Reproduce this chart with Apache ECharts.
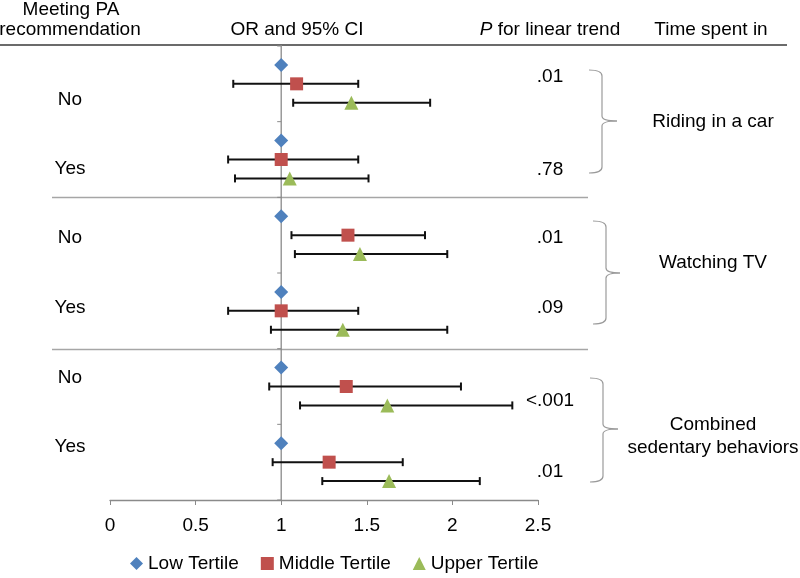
<!DOCTYPE html>
<html><head><meta charset="utf-8">
<script src="https://cdn.jsdelivr.net/npm/echarts@6/dist/echarts.min.js"></script>
<style>html,body{margin:0;padding:0;background:#fff}#c{width:800px;height:578px}</style>
</head><body><div id="c"></div>
<script>
// ---- data ----
const rowLabels = ['No', 'Yes', 'No', 'Yes', 'No', 'Yes'];
const groupNames = ['Riding in a car', 'Watching TV', 'Combined\nsedentary behaviors'];
const seriesNames = ['Low Tertile', 'Middle Tertile', 'Upper Tertile'];
const lowOR = [1, 1, 1, 1, 1, 1];
const midOR = [1.09, 1.00, 1.39, 1.00, 1.38, 1.28];
const midLo = [0.72, 0.69, 1.06, 0.69, 0.93, 0.95];
const midHi = [1.45, 1.45, 1.84, 1.45, 2.05, 1.71];
const upOR = [1.41, 1.05, 1.46, 1.36, 1.62, 1.63];
const upLo = [1.07, 0.73, 1.08, 0.94, 1.11, 1.24];
const upHi = [1.87, 1.51, 1.97, 1.97, 2.35, 2.16];
const pTrend = ['.01', '.78', '.01', '.09', '<.001', '.01'];
const headers = ['OR and 95% CI', 'P for linear trend', 'Time spent in'];
const refOR = 1;

// ---- layout ----
const FONT = "'Liberation Sans', Arial, sans-serif";
const FS = 19;
const SLOTS = 24;            // y-axis slots (4 per row)
const slot = (row, k) => SLOTS - 1 - 4 * row - k;
const rowLabelY = [100, 169, 238, 308, 378, 447];
const pY = [77, 170, 238, 308, 401, 472];
const groupY = [[122], [263], [425, 448]];
const braces = [[70, 121, 173, 589, 602, 617], [221, 273, 324, 593, 606, 620], [378, 429, 482, 590, 603, 618]];

const chart = echarts.init(document.getElementById('c'), null, { renderer: 'canvas' });

const scatter = (name, vals, k, symbol, size, color) => ({
  name, type: 'scatter', symbol, symbolSize: size, z: 5,
  itemStyle: { color, opacity: 1 },
  data: vals.map((v, i) => [v, slot(i, k)])
});
const errBars = (lo, hi, k) => ({
  type: 'custom', z: 3, silent: true,
  data: lo.map((l, i) => [l, hi[i], slot(i, k)]),
  renderItem: (params, api) => {
    const y = api.value(2);
    const a = api.coord([api.value(0), y]);
    const b = api.coord([api.value(1), y]);
    const st = { stroke: '#111', lineWidth: 2 };
    return { type: 'group', children: [
      { type: 'line', shape: { x1: a[0], y1: a[1], x2: b[0], y2: b[1] }, style: st },
      { type: 'line', shape: { x1: a[0], y1: a[1] - 4, x2: a[0], y2: a[1] + 4 }, style: st },
      { type: 'line', shape: { x1: b[0], y1: b[1] - 4, x2: b[0], y2: b[1] + 4 }, style: st }
    ] };
  }
});
const yTickVals = [0, 4, 8, 12, 16, 20, 24];
const refAxis = {
  type: 'custom', z: 1, silent: true,
  data: yTickVals.map(v => [refOR, v]),
  renderItem: (params, api) => {
    const p = api.coord([api.value(0), api.value(1)]);
    const ch = [{ type: 'line', shape: { x1: p[0] - 4, y1: p[1], x2: p[0], y2: p[1] }, style: { stroke: '#8a8a8a', lineWidth: 1 } }];
    if (params.dataIndex === 0) {
      const top = api.coord([refOR, SLOTS]);
      ch.push({ type: 'line', shape: { x1: p[0], y1: p[1], x2: top[0], y2: top[1] - 1 }, style: { stroke: '#8a8a8a', lineWidth: 1.3 } });
    }
    return { type: 'group', children: ch };
  }
};

chart.setOption({
  animation: false,
  grid: { left: 110, right: 262, top: 46, bottom: 78 },
  xAxis: {
    type: 'value', min: 0, max: 2.5, interval: 0.5,
    axisLine: { lineStyle: { color: '#8a8a8a', width: 1.3 } },
    axisTick: { show: true, length: 5, lineStyle: { color: '#8a8a8a' } },
    splitLine: { show: false },
    axisLabel: { fontSize: FS, color: '#000', fontFamily: FONT, margin: 16 }
  },
  yAxis: { type: 'value', min: 0, max: SLOTS, show: false, splitLine: { show: false } },
  legend: {
    data: seriesNames, left: 130, top: 554, itemWidth: 13, itemHeight: 13, itemGap: 22, padding: 0,
    textStyle: { fontSize: FS, color: '#000', fontFamily: FONT }
  },
  series: [
    refAxis,
    errBars(midLo, midHi, 1),
    errBars(upLo, upHi, 2),
    scatter(seriesNames[0], lowOR, 0, 'diamond', 14, '#4F81BD'),
    scatter(seriesNames[1], midOR, 1, 'rect', 13, '#C0504D'),
    scatter(seriesNames[2], upOR, 2, 'triangle', 14, '#9BBB59')
  ]
});

const txt = (x, y, text) => ({
  type: 'text', x, y,
  style: { text, fill: '#000', font: FS + 'px ' + FONT, textAlign: 'center', textVerticalAlign: 'middle' }
});

const g = [];
// header
g.push(txt(71, 10, 'Meeting PA'));
g.push(txt(70, 30, 'recommendation'));
g.push(txt(297, 30, headers[0]));
g.push({ type: 'text', x: 550, y: 30, style: { rich: { i: { font: 'italic ' + FS + 'px ' + FONT, fill: '#000' }, n: { font: FS + 'px ' + FONT, fill: '#000' } }, text: '{i|P}{n| for linear trend}', textAlign: 'center', textVerticalAlign: 'middle' } });
g.push(txt(711, 30, headers[2]));
g.push({ type: 'line', shape: { x1: 0, y1: 45, x2: 787, y2: 45 }, style: { stroke: '#3a3a3a', lineWidth: 1.6 } });
// separators between groups
[16, 8].forEach(v => {
  const y = Math.round(chart.convertToPixel({ yAxisIndex: 0 }, v)) + 0.5;
  g.push({ type: 'line', shape: { x1: 52, y1: y, x2: 588, y2: y }, style: { stroke: '#a6a6a6', lineWidth: 1.5 } });
});
// row labels and p values
rowLabels.forEach((l, i) => g.push(txt(70, rowLabelY[i], l)));
pTrend.forEach((p, i) => g.push(txt(550, pY[i], p)));
// braces and group names
const bst = { stroke: '#9a9a9a', lineWidth: 1.2, fill: null };
braces.forEach(([t, m, b, x0, x1, x2]) => {
  g.push({ type: 'bezierCurve', shape: { x1: x0, y1: t, x2: x1, y2: t + 6, cpx1: x1, cpy1: t }, style: bst });
  g.push({ type: 'line', shape: { x1: x1, y1: t + 6, x2: x1, y2: m - 5 }, style: bst });
  g.push({ type: 'bezierCurve', shape: { x1: x1, y1: m - 5, x2: x2, y2: m, cpx1: x1, cpy1: m }, style: bst });
  g.push({ type: 'bezierCurve', shape: { x1: x2, y1: m, x2: x1, y2: m + 5, cpx1: x1, cpy1: m }, style: bst });
  g.push({ type: 'line', shape: { x1: x1, y1: m + 5, x2: x1, y2: b - 6 }, style: bst });
  g.push({ type: 'bezierCurve', shape: { x1: x1, y1: b - 6, x2: x0, y2: b, cpx1: x1, cpy1: b }, style: bst });
});
groupNames.forEach((n, i) => n.split('\n').forEach((line, j) => g.push(txt(713, groupY[i][j], line))));

chart.setOption({ graphic: g });
</script>
</body></html>
